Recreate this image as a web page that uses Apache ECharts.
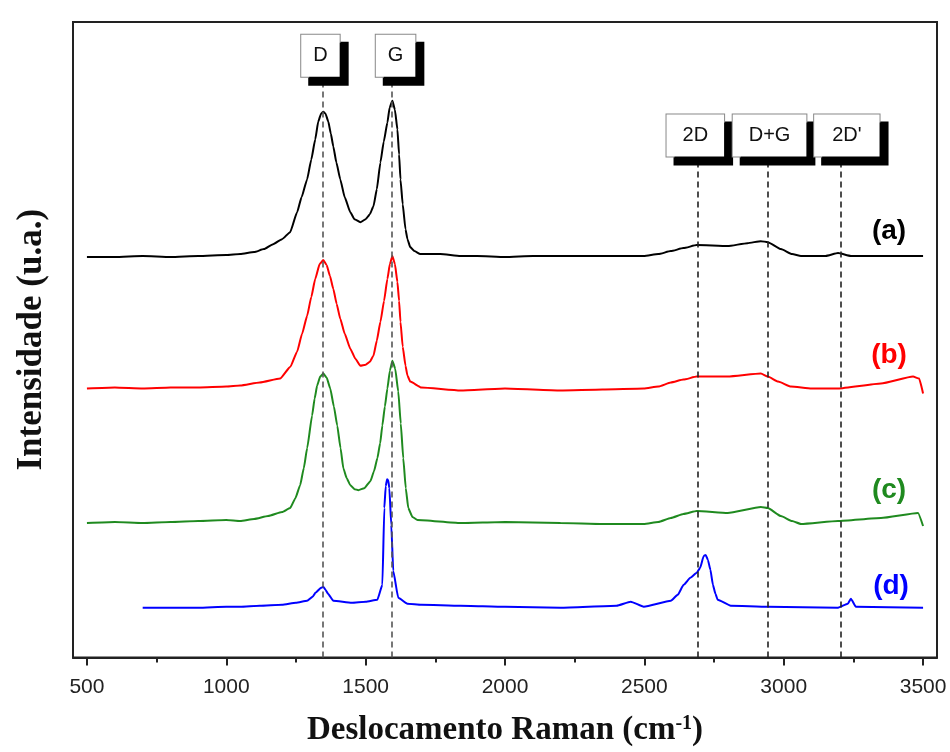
<!DOCTYPE html>
<html>
<head>
<meta charset="utf-8">
<script src="https://cdn.jsdelivr.net/npm/echarts/dist/echarts.min.js"></script>
<style>html,body{margin:0;padding:0;background:#fff}#c{width:950px;height:752px}</style>
</head>
<body>
<div id="c"></div>
<script>
// Raman shift (cm-1) and intensity (a.u., offset stacked) for each sample
const waveA = [500,600,700,800,900,1000,1050,1100,1135,1168,1200,1229,1254,1270,1290,1305,1319,1330,1340,1348,1356,1366,1375,1384,1395,1409,1425,1445,1460,1481,1500,1515,1528,1540,1553,1565,1578,1586,1596,1605,1614,1620,1625,1633,1643,1650,1660,1675,1696,1768,1840,1900,2000,2100,2199,2300,2400,2498,2550,2595,2640,2688,2799,2870,2918,2943,2990,3030,3062,3150,3195,3241,3350,3500];
const intA  = [402,402,403,402,403,404,405,407,410,415,420,427,447,462,480,500,520,538,546,548,546,538,526,513,497,480,462,447,440,437,440,445,453,470,497,518,537,552,559,550,530,505,480,455,430,420,412,408,405,405,403,403,402,403,403,403,403,403,405,408,411,414,413,416,418,417,410,405,403,403,406,403,403,403];

const waveB = [500,600,700,800,900,1000,1050,1120,1193,1230,1254,1272,1290,1305,1319,1335,1348,1360,1372,1384,1396,1409,1425,1445,1463,1481,1500,1515,1528,1540,1553,1566,1578,1587,1596,1605,1614,1620,1625,1633,1643,1650,1660,1700,1840,2000,2199,2350,2498,2550,2595,2640,2688,2799,2918,2943,2980,3026,3100,3195,3349,3464,3486,3500];
const intB  = [270,271,270,271,271,272,273,276,280,292,307,325,343,362,380,395,399,394,383,370,355,340,325,310,300,293,294,297,303,318,337,358,380,395,403,395,377,358,337,312,293,283,277,271,268,270,268,269,270,272,276,279,282,282,285,282,277,272,270,270,275,282,280,265];

const waveC = [500,600,700,800,900,1000,1050,1100,1150,1200,1229,1248,1265,1278,1290,1308,1317,1326,1337,1348,1360,1373,1386,1398,1410,1420,1432,1445,1460,1474,1495,1517,1530,1542,1552,1560,1569,1578,1587,1596,1606,1617,1626,1635,1644,1653,1668,1686,1840,2000,2199,2350,2498,2550,2595,2640,2688,2799,2918,2943,2990,3030,3062,3195,3349,3482,3500];
const intC  = [135,136,135,136,137,138,137,139,142,146,150,160,173,190,210,243,260,273,282,285,281,270,252,233,210,190,180,173,169,168,170,177,187,200,215,233,252,270,288,298,290,267,235,200,170,150,141,138,135,136,135,134,134,136,140,144,147,145,151,150,142,137,134,137,140,145,132];

const waveD = [700,800,900,1000,1050,1120,1200,1250,1290,1310,1320,1340,1348,1356,1365,1384,1450,1500,1542,1560,1567,1572,1577,1581,1585,1592,1599,1617,1650,1700,1840,2000,2199,2400,2451,2498,2595,2620,2641,2665,2688,2700,2713,2720,2728,2737,2746,2755,2763,2810,2943,3195,3230,3241,3259,3500];
const intD  = [50,50,50,51,51,52,53,55,57,61,65,70,71,68,64,57,55,56,58,73,150,172,179,178,170,133,87,60,54,53,52,51,50,52,56,51,57,63,73,80,85,90,102,103,98,88,73,64,58,52,51,50,54,59,51,50];

const xTicks = [500,1000,1500,2000,2500,3000,3500];
const xMinorTicks = [750,1250,1750,2250,2750,3250];

// Peak assignments
const peakNames = ['D','G','2D','D+G',"2D'"];
const peakPos   = [1345,1593,2690,2942,3205];

// Sample tags
const sampleNames = ['(a)','(b)','(c)','(d)'];
const sampleTagX  = [3378,3378,3378,3385];
const sampleTagY  = [428,303,168,72];

const colors = ['#000000','#ff0000','#1f8a1f','#0000ff'];
const sets = [[waveA,intA],[waveB,intB],[waveC,intC],[waveD,intD]];

const chart = echarts.init(document.getElementById('c'));

const peakTop = [583,583,503,503,503];
const peakOffset = [[-2,0],[4,0],[-2,0],[2,0],[6,0]];
const peakPad = [[11,12],[11,12],[11,16],[11,16],[11,18]];
const markData = peakNames.map((n,i)=>[
  {name:n, coord:[peakPos[i],0],
   lineStyle:{color: i<2 ? '#555' : '#222', type:[6,4], width:1.6},
   label:{show:true, position:'end', distance:0, formatter:n, offset:peakOffset[i],
     fontFamily:'Liberation Sans, Arial, sans-serif', fontSize:20, color:'#111',
     backgroundColor:'#fff', borderColor:'#888', borderWidth:1, padding:peakPad[i],
     shadowColor:'#000', shadowBlur:0, shadowOffsetX:8, shadowOffsetY:8}},
  {coord:[peakPos[i], peakTop[i]]}
]);

const series = sets.map((s,k)=>({
  type:'line',
  name: sampleNames[k],
  data: s[0].map((w,i)=>[w, s[1][i]]),
  showSymbol:false,
  smooth:0.15,
  smoothMonotone:'x',
  lineStyle:{color:colors[k], width:2},
  itemStyle:{color:colors[k]},
  z: 3,
  markPoint:{
    symbol:'rect', symbolSize:1, itemStyle:{color:'transparent'},
    data:[{coord:[sampleTagX[k], sampleTagY[k]], value:sampleNames[k],
      label:{show:true, position:'inside', formatter:sampleNames[k], color:colors[k],
        fontFamily:'Liberation Sans, Arial, sans-serif', fontWeight:'bold', fontSize:28}}]
  }
}));
series[3].markLine = {silent:true, symbol:['none','none'], animation:false, data:markData};
series[3].z = 4;

chart.setOption({
  animation:false,
  backgroundColor:'#fff',
  grid:{left:73, top:22, right:13, bottom:92, show:true, borderColor:'#222', borderWidth:2, backgroundColor:'transparent'},
  xAxis:[{
    type:'value', min:450, max:3550,
    axisLine:{show:true, lineStyle:{color:'#222', width:2}},
    axisTick:{show:true, customValues:xTicks, length:8, lineStyle:{color:'#222', width:2}},
    axisLabel:{show:true, customValues:xTicks, margin:19, fontSize:21, color:'#222', fontFamily:'Liberation Sans, Arial, sans-serif',
      formatter:(v)=>String(v)},
    splitLine:{show:false},
    name:'Deslocamento Raman (cm{sup|-1})',
    nameLocation:'middle', nameGap:56,
    nameTextStyle:{fontFamily:'Liberation Serif, Times New Roman, serif', fontWeight:'bold', fontSize:33, color:'#111',
      rich:{sup:{fontFamily:'Liberation Serif, Times New Roman, serif', fontWeight:'bold', fontSize:20, color:'#111', verticalAlign:'top', padding:[0,0,14,0]}}}
  },{
    type:'value', min:450, max:3550, position:'bottom',
    axisLine:{show:false},
    axisTick:{show:true, customValues:xMinorTicks, length:5, lineStyle:{color:'#222', width:2}},
    axisLabel:{show:false},
    splitLine:{show:false}
  }],
  yAxis:{
    type:'value', min:0, max:638,
    axisLine:{show:true, lineStyle:{color:'#222', width:2}},
    axisTick:{show:false}, axisLabel:{show:false}, splitLine:{show:false},
    name:'Intensidade (u.a.)', nameLocation:'middle', nameGap:24, nameRotate:90,
    nameTextStyle:{fontFamily:'Liberation Serif, Times New Roman, serif', fontWeight:'bold', fontSize:35, color:'#111'}
  },
  series: series
});
</script>
</body>
</html>
